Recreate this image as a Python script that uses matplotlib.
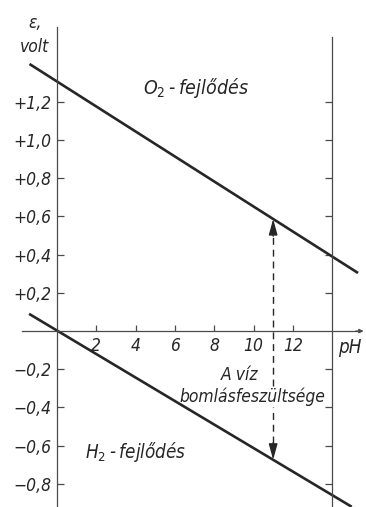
import numpy as np
import matplotlib
matplotlib.use("Agg")
import matplotlib.pyplot as plt
from matplotlib import font_manager as fm

# pick a narrow/condensed font if one is installed
fonts = fm.fontManager.ttflist
names = {f.name for f in fonts}
stretch = 'normal'
if 'Liberation Sans Narrow' in names:
    family = ['Liberation Sans Narrow', 'DejaVu Sans']
elif any(f.name == 'DejaVu Sans' and str(f.stretch) in ('condensed', 'semi-condensed', '87.5', '75')
         for f in fonts):
    family = ['DejaVu Sans']
    stretch = 'condensed'
else:
    family = ['DejaVu Sans']
plt.rcParams['font.family'] = family
plt.rcParams['font.stretch'] = stretch

# --- data ---
o2_ph = [-1.4, 15.32]
o2_e = [1.398, 0.304]
h2_ph = [-1.42, 15.0]
h2_e = [0.09, -0.92]
arrow_ph = 11.0
right_line_ph = 14.0

x_ticks = [2, 4, 6, 8, 10, 12]
x_tick_labels = ['2', '4', '6', '8', '10', '12']
y_ticks = [1.2, 1.0, 0.8, 0.6, 0.4, 0.2, -0.2, -0.4, -0.6, -0.8]
y_tick_labels = ['+1,2', '+1,0', '+0,8', '+0,6', '+0,4', '+0,2',
                 '\u22120,2', '\u22120,4', '\u22120,6', '\u22120,8']

ink = '#262626'
axc = '#4a4a4a'
fs = 12.5 if stretch == 'condensed' or family[0] != 'DejaVu Sans' else 11.5

fig = plt.figure(figsize=(3.66, 5.07), dpi=100)
ax = fig.add_axes([0, 0, 1, 1])
ax.set_xlim(-2.901, 15.725)
ax.set_ylim(-0.921, 1.733)
ax.patch.set_alpha(0)

ax.spines['top'].set_visible(False)
ax.spines['left'].set_position(('data', 0))
ax.spines['left'].set_bounds(-0.921, 1.592)
ax.spines['bottom'].set_position(('data', 0))
ax.spines['bottom'].set_bounds(-1.78, 15.45)
ax.spines['right'].set_position(('data', right_line_ph))
ax.spines['right'].set_bounds(-0.921, 1.539)
for s in ['left', 'bottom', 'right']:
    ax.spines[s].set_color(axc)
    ax.spines[s].set_linewidth(0.9)

ax.set_xticks(x_ticks)
ax.set_xticklabels(x_tick_labels, fontsize=fs, style='italic', color=ink)
ax.set_yticks(y_ticks)
ax.set_yticklabels(y_tick_labels, fontsize=fs, style='italic', color=ink)
ax.tick_params(axis='x', direction='in', length=4, width=0.9, color=axc, pad=4)
ax.tick_params(axis='y', direction='in', length=5, width=0.9, color=axc, pad=4,
               right=True, labelright=False)

# arrowhead on the pH axis
ax.annotate('', xy=(15.6, 0), xytext=(15.2, 0),
            arrowprops=dict(arrowstyle='-|>', color=axc, lw=0.9,
                            mutation_scale=6, shrinkA=0, shrinkB=0))

# main lines
ax.plot(o2_ph, o2_e, color=ink, lw=1.9, solid_capstyle='butt')
ax.plot(h2_ph, h2_e, color=ink, lw=1.9, solid_capstyle='butt')

# decomposition-voltage arrow (dashed, interrupted by the label)
e_top = np.interp(arrow_ph, o2_ph, o2_e)
e_bot = np.interp(arrow_ph, h2_ph, h2_e)
ax.plot([arrow_ph, arrow_ph], [-0.29, e_top - 0.09], color=ink,
        lw=1.0, dashes=(5, 3.5))
ax.plot([arrow_ph, arrow_ph], [e_bot + 0.09, -0.40], color=ink,
        lw=1.0, dashes=(5, 3.5))
for tip, tail in [(e_top, e_top - 0.09), (e_bot, e_bot + 0.09)]:
    ax.annotate('', xy=(arrow_ph, tip), xytext=(arrow_ph, tail),
                arrowprops=dict(arrowstyle='-|>,head_length=0.8,head_width=0.22',
                                color=ink, lw=1.0,
                                mutation_scale=12, shrinkA=0, shrinkB=0))

# texts
ax.text(-1.12, 1.615, '\u03b5,', fontsize=fs, style='italic', color=ink,
        ha='center', va='center')
ax.text(-1.12, 1.485, 'volt', fontsize=fs, style='italic', color=ink,
        ha='center', va='center')
ax.text(4.38, 1.27, 'O$_2$\u2009-\u2009fejlődés', fontsize=fs + 1.5, style='italic',
        color=ink, ha='left', va='center')
ax.text(1.42, -0.633, 'H$_2$\u2009-\u2009fejlődés', fontsize=fs + 1, style='italic',
        color=ink, ha='left', va='center')
ax.text(9.3, -0.23, 'A víz', fontsize=fs, style='italic', color=ink,
        ha='center', va='center')
ax.text(9.95, -0.345, 'bomlásfeszültsége', fontsize=fs, style='italic', color=ink,
        ha='center', va='center')
ax.text(14.9, -0.084, 'pH', fontsize=fs + 1, style='italic', color=ink,
        ha='center', va='center')

fig.savefig('out.png', dpi=100, facecolor='white')
